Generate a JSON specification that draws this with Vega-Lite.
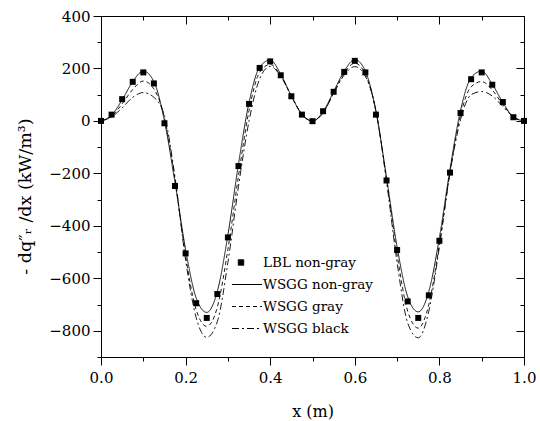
{
  "$schema": "https://vega.github.io/schema/vega-lite/v6.json",
  "width": 423,
  "height": 341,
  "autosize": {"type": "none"},
  "padding": {"left": 101, "top": 16, "right": 16, "bottom": 64},
  "background": "white",
  "config": {
    "font": "DejaVu Serif",
    "view": {"stroke": null},
    "axis": {"grid": false, "domainColor": "black", "tickColor": "black", "labelColor": "black", "titleColor": "black", "domainWidth": 1, "tickWidth": 1, "labelFont": "DejaVu Serif", "titleFont": "DejaVu Serif"},
    "legend": {"labelFont": "DejaVu Serif"}
  },
  "datasets": {
    "lbl": [
      {"x": 0, "y": 0}, {"x": 0.025, "y": 24}, {"x": 0.05, "y": 83}, {"x": 0.075, "y": 149}, {"x": 0.1, "y": 185},
      {"x": 0.125, "y": 143}, {"x": 0.15, "y": -9}, {"x": 0.175, "y": -248}, {"x": 0.2, "y": -505}, {"x": 0.225, "y": -695},
      {"x": 0.25, "y": -751}, {"x": 0.275, "y": -660}, {"x": 0.3, "y": -444}, {"x": 0.325, "y": -172}, {"x": 0.35, "y": 65},
      {"x": 0.375, "y": 202}, {"x": 0.4, "y": 227}, {"x": 0.425, "y": 174}, {"x": 0.45, "y": 94}, {"x": 0.475, "y": 24},
      {"x": 0.5, "y": -1}, {"x": 0.525, "y": 37}, {"x": 0.55, "y": 111}, {"x": 0.575, "y": 187}, {"x": 0.6, "y": 229},
      {"x": 0.625, "y": 185}, {"x": 0.65, "y": 24}, {"x": 0.675, "y": -227}, {"x": 0.7, "y": -492}, {"x": 0.725, "y": -688},
      {"x": 0.75, "y": -751}, {"x": 0.775, "y": -665}, {"x": 0.8, "y": -457}, {"x": 0.825, "y": -197}, {"x": 0.85, "y": 30},
      {"x": 0.875, "y": 159}, {"x": 0.9, "y": 185}, {"x": 0.925, "y": 138}, {"x": 0.95, "y": 72}, {"x": 0.975, "y": 14},
      {"x": 1.0, "y": 0}
    ],
    "lines": [
      {"s": "WSGG non-gray", "x": 0, "y": 0}, {"s": "WSGG non-gray", "x": 0.025, "y": 22}, {"s": "WSGG non-gray", "x": 0.05, "y": 80},
      {"s": "WSGG non-gray", "x": 0.075, "y": 150}, {"s": "WSGG non-gray", "x": 0.1, "y": 190}, {"s": "WSGG non-gray", "x": 0.125, "y": 150},
      {"s": "WSGG non-gray", "x": 0.15, "y": 0}, {"s": "WSGG non-gray", "x": 0.175, "y": -235}, {"s": "WSGG non-gray", "x": 0.2, "y": -490},
      {"s": "WSGG non-gray", "x": 0.225, "y": -675}, {"s": "WSGG non-gray", "x": 0.25, "y": -730}, {"s": "WSGG non-gray", "x": 0.275, "y": -650},
      {"s": "WSGG non-gray", "x": 0.3, "y": -435}, {"s": "WSGG non-gray", "x": 0.325, "y": -165}, {"s": "WSGG non-gray", "x": 0.35, "y": 70},
      {"s": "WSGG non-gray", "x": 0.375, "y": 205}, {"s": "WSGG non-gray", "x": 0.4, "y": 232}, {"s": "WSGG non-gray", "x": 0.425, "y": 178},
      {"s": "WSGG non-gray", "x": 0.45, "y": 95}, {"s": "WSGG non-gray", "x": 0.475, "y": 25}, {"s": "WSGG non-gray", "x": 0.5, "y": 0},
      {"s": "WSGG non-gray", "x": 0.525, "y": 35}, {"s": "WSGG non-gray", "x": 0.55, "y": 112}, {"s": "WSGG non-gray", "x": 0.575, "y": 190},
      {"s": "WSGG non-gray", "x": 0.6, "y": 234}, {"s": "WSGG non-gray", "x": 0.625, "y": 190}, {"s": "WSGG non-gray", "x": 0.65, "y": 35},
      {"s": "WSGG non-gray", "x": 0.675, "y": -215}, {"s": "WSGG non-gray", "x": 0.7, "y": -480}, {"s": "WSGG non-gray", "x": 0.725, "y": -670},
      {"s": "WSGG non-gray", "x": 0.75, "y": -728}, {"s": "WSGG non-gray", "x": 0.775, "y": -650}, {"s": "WSGG non-gray", "x": 0.8, "y": -445},
      {"s": "WSGG non-gray", "x": 0.825, "y": -185}, {"s": "WSGG non-gray", "x": 0.85, "y": 40}, {"s": "WSGG non-gray", "x": 0.875, "y": 165},
      {"s": "WSGG non-gray", "x": 0.9, "y": 190}, {"s": "WSGG non-gray", "x": 0.925, "y": 140}, {"s": "WSGG non-gray", "x": 0.95, "y": 70},
      {"s": "WSGG non-gray", "x": 0.975, "y": 15}, {"s": "WSGG non-gray", "x": 1.0, "y": 0},

      {"s": "WSGG gray", "x": 0, "y": 0}, {"s": "WSGG gray", "x": 0.025, "y": 18}, {"s": "WSGG gray", "x": 0.05, "y": 65},
      {"s": "WSGG gray", "x": 0.075, "y": 120}, {"s": "WSGG gray", "x": 0.1, "y": 152}, {"s": "WSGG gray", "x": 0.125, "y": 122},
      {"s": "WSGG gray", "x": 0.15, "y": 12}, {"s": "WSGG gray", "x": 0.175, "y": -225}, {"s": "WSGG gray", "x": 0.2, "y": -515},
      {"s": "WSGG gray", "x": 0.225, "y": -720}, {"s": "WSGG gray", "x": 0.25, "y": -783}, {"s": "WSGG gray", "x": 0.275, "y": -710},
      {"s": "WSGG gray", "x": 0.3, "y": -490}, {"s": "WSGG gray", "x": 0.325, "y": -210}, {"s": "WSGG gray", "x": 0.35, "y": 40},
      {"s": "WSGG gray", "x": 0.375, "y": 185}, {"s": "WSGG gray", "x": 0.4, "y": 215}, {"s": "WSGG gray", "x": 0.425, "y": 172},
      {"s": "WSGG gray", "x": 0.45, "y": 95}, {"s": "WSGG gray", "x": 0.475, "y": 25}, {"s": "WSGG gray", "x": 0.5, "y": 0},
      {"s": "WSGG gray", "x": 0.525, "y": 32}, {"s": "WSGG gray", "x": 0.55, "y": 108}, {"s": "WSGG gray", "x": 0.575, "y": 182},
      {"s": "WSGG gray", "x": 0.6, "y": 220}, {"s": "WSGG gray", "x": 0.625, "y": 178}, {"s": "WSGG gray", "x": 0.65, "y": 38},
      {"s": "WSGG gray", "x": 0.675, "y": -222}, {"s": "WSGG gray", "x": 0.7, "y": -510}, {"s": "WSGG gray", "x": 0.725, "y": -725},
      {"s": "WSGG gray", "x": 0.75, "y": -790}, {"s": "WSGG gray", "x": 0.775, "y": -700}, {"s": "WSGG gray", "x": 0.8, "y": -470},
      {"s": "WSGG gray", "x": 0.825, "y": -195}, {"s": "WSGG gray", "x": 0.85, "y": 22}, {"s": "WSGG gray", "x": 0.875, "y": 130},
      {"s": "WSGG gray", "x": 0.9, "y": 150}, {"s": "WSGG gray", "x": 0.925, "y": 118}, {"s": "WSGG gray", "x": 0.95, "y": 62},
      {"s": "WSGG gray", "x": 0.975, "y": 15}, {"s": "WSGG gray", "x": 1.0, "y": 0},

      {"s": "WSGG black", "x": 0, "y": 0}, {"s": "WSGG black", "x": 0.025, "y": 15}, {"s": "WSGG black", "x": 0.05, "y": 50},
      {"s": "WSGG black", "x": 0.075, "y": 90}, {"s": "WSGG black", "x": 0.1, "y": 108}, {"s": "WSGG black", "x": 0.125, "y": 90},
      {"s": "WSGG black", "x": 0.15, "y": 20}, {"s": "WSGG black", "x": 0.175, "y": -215}, {"s": "WSGG black", "x": 0.2, "y": -530},
      {"s": "WSGG black", "x": 0.225, "y": -750}, {"s": "WSGG black", "x": 0.25, "y": -825}, {"s": "WSGG black", "x": 0.275, "y": -765},
      {"s": "WSGG black", "x": 0.3, "y": -540}, {"s": "WSGG black", "x": 0.325, "y": -250}, {"s": "WSGG black", "x": 0.35, "y": 0},
      {"s": "WSGG black", "x": 0.375, "y": 160}, {"s": "WSGG black", "x": 0.4, "y": 208}, {"s": "WSGG black", "x": 0.425, "y": 170},
      {"s": "WSGG black", "x": 0.45, "y": 95}, {"s": "WSGG black", "x": 0.475, "y": 25}, {"s": "WSGG black", "x": 0.5, "y": 0},
      {"s": "WSGG black", "x": 0.525, "y": 30}, {"s": "WSGG black", "x": 0.55, "y": 105}, {"s": "WSGG black", "x": 0.575, "y": 175},
      {"s": "WSGG black", "x": 0.6, "y": 207}, {"s": "WSGG black", "x": 0.625, "y": 170}, {"s": "WSGG black", "x": 0.65, "y": 40},
      {"s": "WSGG black", "x": 0.675, "y": -230}, {"s": "WSGG black", "x": 0.7, "y": -540}, {"s": "WSGG black", "x": 0.725, "y": -770},
      {"s": "WSGG black", "x": 0.75, "y": -827}, {"s": "WSGG black", "x": 0.775, "y": -725}, {"s": "WSGG black", "x": 0.8, "y": -480},
      {"s": "WSGG black", "x": 0.825, "y": -200}, {"s": "WSGG black", "x": 0.85, "y": 5}, {"s": "WSGG black", "x": 0.875, "y": 100},
      {"s": "WSGG black", "x": 0.9, "y": 112}, {"s": "WSGG black", "x": 0.925, "y": 95}, {"s": "WSGG black", "x": 0.95, "y": 55},
      {"s": "WSGG black", "x": 0.975, "y": 15}, {"s": "WSGG black", "x": 1.0, "y": 0}
    ]
  },
  "layer": [
    {
      "data": {"name": "lines"},
      "mark": {"type": "line", "interpolate": "monotone", "color": "black", "strokeWidth": 0.9},
      "encoding": {
        "x": {
          "field": "x", "type": "quantitative",
          "scale": {"domain": [0, 1], "nice": false, "zero": false},
          "axis": {
            "orient": "bottom",
            "values": [0, 0.1, 0.2, 0.3, 0.4, 0.5, 0.6, 0.7, 0.8, 0.9, 1.0],
            "format": ".1f",
            "labelExpr": "round(datum.value*10)%2==0 ? datum.label : ''",
            "tickSize": {"condition": {"test": "round(datum.value*10)%2==0", "value": 8}, "value": 4},
            "labelPadding": 5,
            "labelFontSize": 15,
            "labelFlush": false,
            "labelOverlap": false,
            "title": "x (m)",
            "titleFontSize": 16,
            "titleFontWeight": "normal",
            "titlePadding": 18
          }
        },
        "y": {
          "field": "y", "type": "quantitative",
          "scale": {"domain": [-900, 400], "nice": false, "zero": false},
          "axis": {
            "orient": "left",
            "values": [-900, -800, -700, -600, -500, -400, -300, -200, -100, 0, 100, 200, 300, 400],
            "labelExpr": "datum.value % 200 == 0 ? datum.label : ''",
            "tickSize": {"condition": {"test": "datum.value % 200 == 0", "value": 8}, "value": 4},
            "labelPadding": 3,
            "labelFontSize": 15,
            "labelFlush": false,
            "labelOverlap": false,
            "title": "- dq\u2033\u1D63 /dx (kW/m\u00B3)",
            "titleFontSize": 17.5,
            "titleFontWeight": "normal",
            "titlePadding": 14,
            "titleY": 180
          }
        },
        "strokeDash": {
          "field": "s", "type": "nominal",
          "scale": {
            "domain": ["LBL non-gray", "WSGG non-gray", "WSGG gray", "WSGG black"],
            "range": [[1, 0], [1, 0], [4, 3], [7, 3, 2, 3]]
          },
          "legend": {
            "orient": "none",
            "legendX": 131,
            "legendY": 231,
            "title": null,
            "symbolType": "stroke",
            "symbolSize": 900,
            "symbolStrokeWidth": 1,
            "symbolStrokeColor": "black",
            "labelFontSize": 13.5,
            "labelColor": "black",
            "labelOffset": 0,
            "rowPadding": -13,
            "encode": {
              "symbols": {
                "update": {
                  "shape": {"signal": "datum.value === 'LBL non-gray' ? 'square' : 'stroke'"},
                  "size": {"signal": "datum.value === 'LBL non-gray' ? 30 : 900"},
                  "fill": {"signal": "datum.value === 'LBL non-gray' ? 'black' : 'transparent'"},
                  "stroke": {"value": "black"},
                  "x": {"signal": "datum.value === 'LBL non-gray' ? 9 : 15"}
                }
              }
            }
          }
        }
      }
    },
    {
      "data": {"name": "lbl"},
      "mark": {"type": "point", "shape": "square", "filled": true, "color": "black", "size": 36, "opacity": 1},
      "encoding": {
        "x": {
          "field": "x", "type": "quantitative",
          "scale": {"domain": [0, 1], "nice": false, "zero": false},
          "axis": {
            "orient": "top",
            "values": [0, 0.1, 0.2, 0.3, 0.4, 0.5, 0.6, 0.7, 0.8, 0.9, 1.0],
            "labels": false,
            "title": null,
            "tickSize": {"condition": {"test": "round(datum.value*10)%2==0", "value": -8}, "value": -4}
          }
        },
        "y": {
          "field": "y", "type": "quantitative",
          "scale": {"domain": [-900, 400], "nice": false, "zero": false},
          "axis": {
            "orient": "right",
            "values": [-900, -800, -700, -600, -500, -400, -300, -200, -100, 0, 100, 200, 300, 400],
            "labels": false,
            "title": null,
            "tickSize": {"condition": {"test": "datum.value % 200 == 0", "value": -8}, "value": -4}
          }
        }
      }
    }
  ],
  "resolve": {"axis": {"x": "independent", "y": "independent"}}
}
